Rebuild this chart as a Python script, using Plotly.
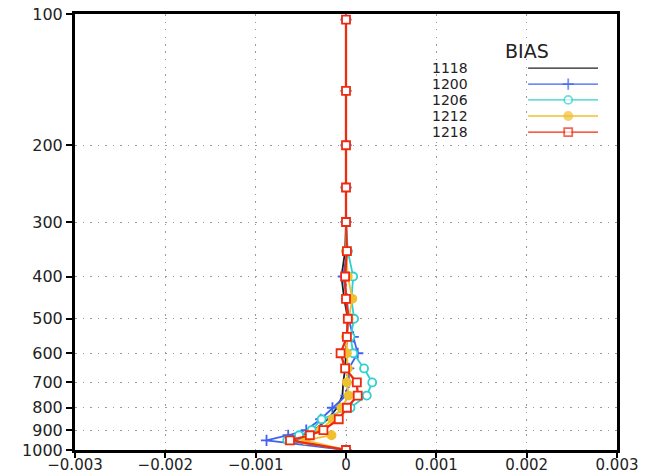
import plotly.graph_objects as go

# Pressure levels (hPa) and bias profiles for each run
levels = [103, 150, 200, 250, 300, 350, 400, 450, 500, 550, 600, 650, 700, 750, 800, 850, 900, 925, 950, 1000]

bias_1118 = [0, 0, 0, 0, 0, -0.00001, -0.00005, -0.00002, 0.00002, 0.00001, 0.0, -0.00001, -0.00003, -0.00004,
             -0.0001, -0.0002, -0.00035, -0.0005, -0.0006, 0]
bias_1200 = [0, 0, 0, 0, 0, 0.00001, -0.00003, 0.00001, 0.00003, 0.00008, 0.00013, 0.00003, 0.00003, 0.0,
             -0.00015, -0.00028, -0.00044, -0.00064, -0.00088, 0]
bias_1206 = [0, 0, 0, 0, 0, 0.00002, 0.00008, 0.00006, 0.00009, 0.00005, 0.00008, 0.0002, 0.00029, 0.00023,
             0.00005, -0.00027, -0.00038, -0.00052, -0.00065, 0]
bias_1212 = [0, 0, 0, 0, 0, 0.0, 0.00002, 0.00007, 0.00003, 0.0, 0.00001, 0.00002, 0.00001, 0.00003,
             -0.00005, -0.00015, -0.00028, -0.00016, -0.00045, 0]
bias_1218 = [0, 0, 0, 0, 0, 0.00001, -0.00001, 0.0, 0.00002, 0.00001, -0.00006, -0.00001, 0.00012, 0.00013,
             0.00001, -0.00008, -0.00025, -0.0004, -0.00062, 0]

run_names = ["1118", "1200", "1206", "1212", "1218"]

x_ticks = [-0.003, -0.002, -0.001, 0, 0.001, 0.002, 0.003]
x_ticktext = ["\u22120.003", "\u22120.002", "\u22120.001", "0", "0.001", "0.002", "0.003"]
y_ticks = [100, 200, 300, 400, 500, 600, 700, 800, 900, 1000]

styles = [
    dict(color="#202020", symbol="circle", size=0, fill="#202020", width=1.8),
    dict(color="#3f63f0", symbol="cross-thin", size=8, fill="#3f63f0", width=1.8),
    dict(color="#30d0d0", symbol="circle", size=8, fill="white", width=1.8),
    dict(color="#f0c030", symbol="circle", size=8, fill="#f0c030", width=1.8),
    dict(color="#f02a10", symbol="square", size=8, fill="white", width=2.3),
]
series = [bias_1118, bias_1200, bias_1206, bias_1212, bias_1218]

fig = go.Figure()

for name, vals, st in zip(run_names, series, styles):
    mode = "lines" if st["size"] == 0 else "lines+markers"
    fig.add_trace(go.Scatter(
        x=vals, y=levels, mode=mode, name=name, showlegend=False,
        line=dict(color=st["color"], width=st["width"]),
        marker=dict(symbol=st["symbol"], size=st["size"], color=st["fill"],
                    line=dict(color=st["color"], width=1.8)),
        xaxis="x", yaxis="y",
    ))

# Legend block: label on the left, line sample with centred marker on the right
leg_y = [0.876, 0.839, 0.803, 0.766, 0.729]
x_line = [0.836, 0.91, 0.965]
for name, st, yy in zip(run_names, styles, leg_y):
    fig.add_trace(go.Scatter(
        x=x_line, y=[yy] * 3, mode="lines+markers", showlegend=False, hoverinfo="skip",
        line=dict(color=st["color"], width=1.3),
        marker=dict(symbol=st["symbol"], size=[0, st["size"], 0], color=st["fill"],
                    line=dict(color=st["color"], width=1.8)),
        xaxis="x2", yaxis="y2",
    ))
    fig.add_annotation(x=0.655, y=yy, xref="paper", yref="paper", text=name, showarrow=False,
                       xanchor="left", yanchor="middle", font=dict(size=14, color="#222", family="DejaVu Sans"))

fig.add_annotation(x=0.834, y=0.915, xref="paper", yref="paper", text="BIAS", showarrow=False,
                   xanchor="center", yanchor="middle", font=dict(size=19, color="#222", family="DejaVu Sans"))

tick_font = dict(size=15, color="#222", family="DejaVu Sans")
grid_style = dict(showgrid=True, gridcolor="#9a9a9a", griddash="1.5px,6px", gridwidth=1)

fig.update_layout(
    width=648, height=473,
    margin=dict(l=75, r=31, t=14, b=23),
    paper_bgcolor="white", plot_bgcolor="white",
    xaxis=dict(
        range=[-0.003, 0.003], tickvals=x_ticks, ticktext=x_ticktext, automargin=False,
        showline=True, linecolor="black", linewidth=3, mirror=True,
        ticks="outside", ticklen=5, tickwidth=1.5, tickcolor="black",
        ticklabelstandoff=-6, zeroline=False, tickfont=tick_font, **grid_style,
    ),
    yaxis=dict(
        type="log", range=[3, 2], tickvals=y_ticks, ticktext=[str(v) for v in y_ticks], automargin=False,
        showline=True, linecolor="black", linewidth=3, mirror=True,
        ticks="outside", ticklen=6, tickwidth=1.5, tickcolor="black",
        zeroline=False, tickfont=dict(size=16, color="#222", family="DejaVu Sans"), **grid_style,
    ),
    xaxis2=dict(overlaying="x", range=[0, 1], visible=False, anchor="free"),
    yaxis2=dict(overlaying="y", range=[0, 1], visible=False, anchor="free"),
)

fig.write_html("out.html")
